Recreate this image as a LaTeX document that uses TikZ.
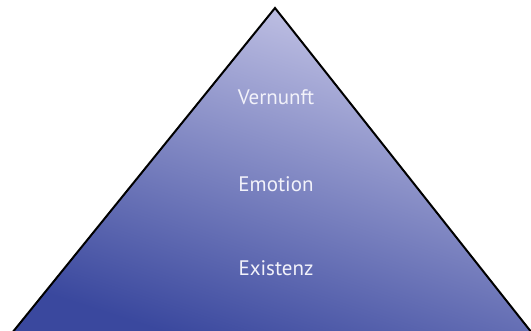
\documentclass[tikz,border=0pt]{standalone}
\usepackage{fontspec}
\setmainfont{PT Sans}
\usetikzlibrary{positioning,calc}
\definecolor{pyrtop}{RGB}{200,200,232}
\definecolor{pyrbot}{RGB}{58,72,158}
\definecolor{pyrtext}{RGB}{242,242,250}
\tikzset{
  level/.style={text=pyrtext,font=\fontsize{21}{24}\selectfont,anchor=center},
  edge/.style={draw=black,line width=2pt,line join=miter},
}
\begin{document}
\begin{tikzpicture}[x=1pt,y=-1pt]
        \useasboundingbox (0,0) rectangle (531,331);
        \coordinate (apex) at (275,8);
        \coordinate (bl) at (12,333);
        \coordinate (br) at (532,333);
        \shade[top color=pyrtop,bottom color=pyrbot,shading angle=-18] (bl) -- (apex) -- (br) -- cycle;
        \draw[edge] (bl) -- (apex) -- (br);
        \foreach \t/\y [count=\i from 0] in {Vernunft/97,Emotion/184,Existenz/268}{
          \node[level] (l\i) at (276,\y) {\t};
        }
      \end{tikzpicture}
\end{document}
